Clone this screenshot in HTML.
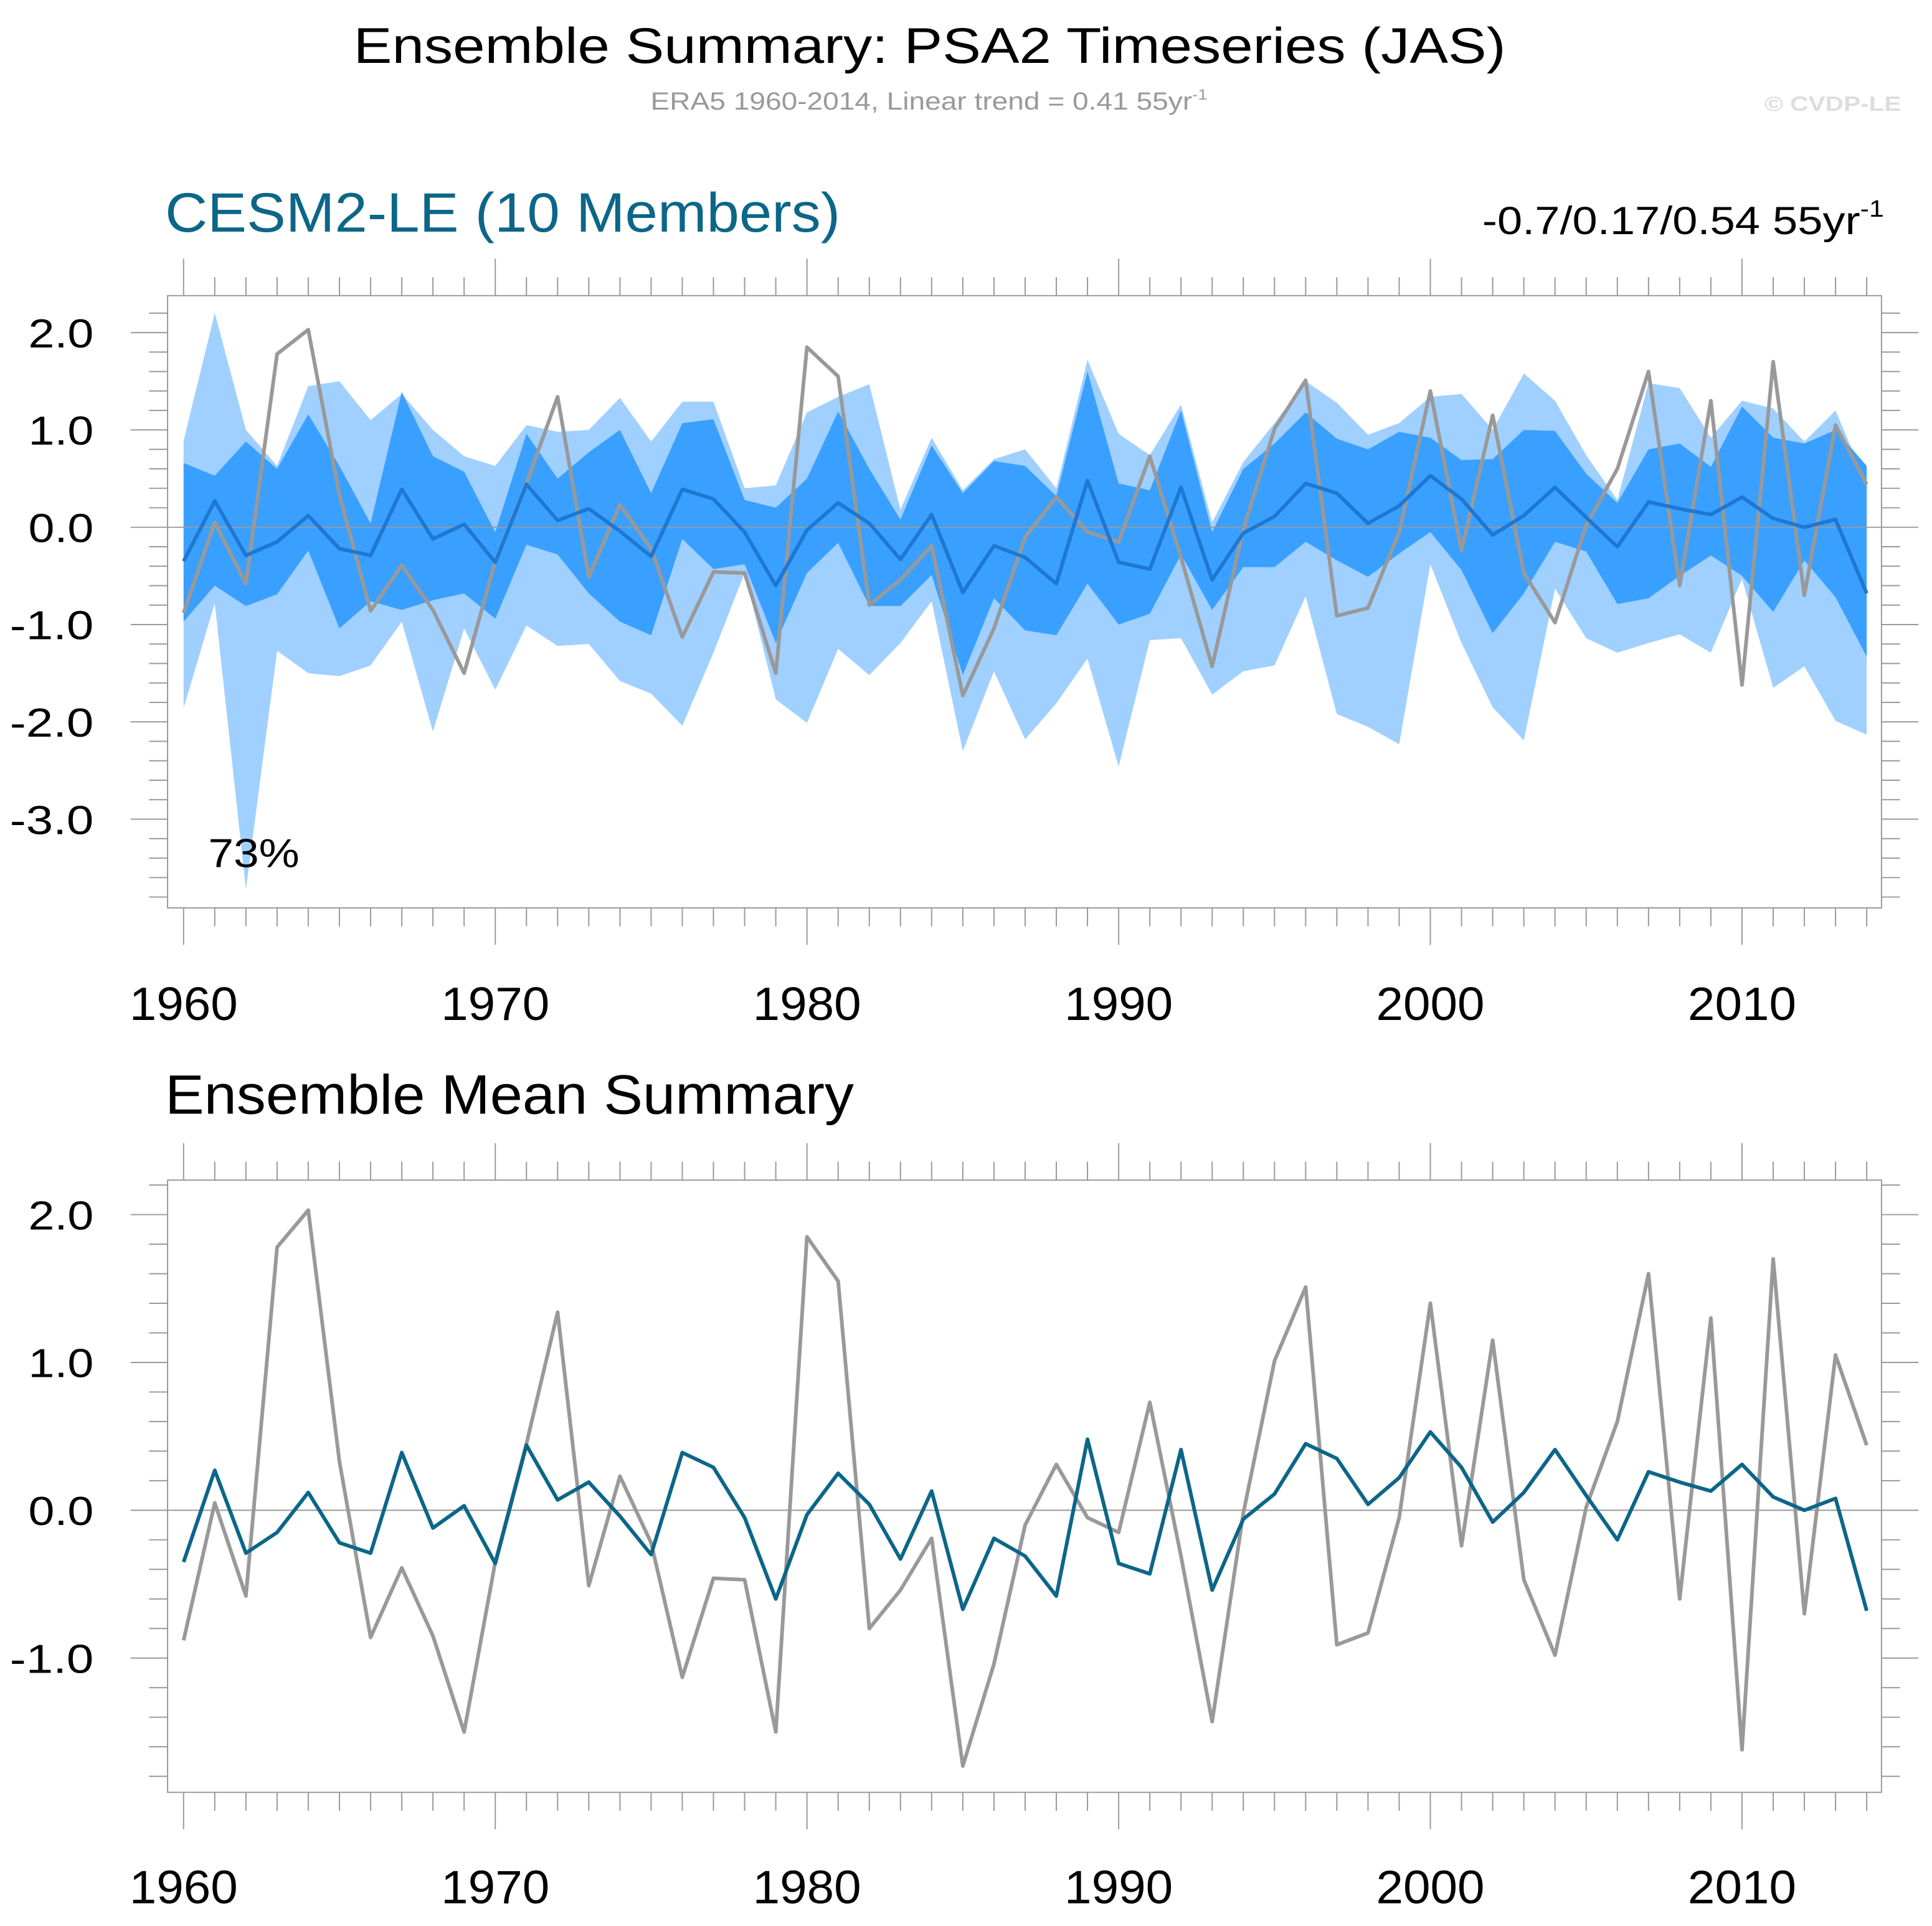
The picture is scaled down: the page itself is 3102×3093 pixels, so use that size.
<!DOCTYPE html>
<html><head><meta charset="utf-8"><style>html,body{margin:0;padding:0;background:#fff}svg{display:block}</style></head>
<body>
<svg id="chart" width="3102" height="3093" viewBox="0 0 1568 1563.5" preserveAspectRatio="none" xmlns="http://www.w3.org/2000/svg" font-family="Liberation Sans, sans-serif">
<text x="287" y="51" font-size="41" textLength="935" lengthAdjust="spacingAndGlyphs">Ensemble Summary: PSA2 Timeseries (JAS)</text>
<text x="528" y="89" font-size="20" fill="#999" textLength="452" lengthAdjust="spacingAndGlyphs">ERA5 1960-2014, Linear trend = 0.41 55yr<tspan font-size="12" dy="-8">-1</tspan></text>
<text x="1432" y="90" font-size="17" font-weight="bold" fill="#ddd" textLength="111" lengthAdjust="spacingAndGlyphs">© CVDP-LE</text>
<text x="134" y="188" font-size="45" fill="#0c6688" textLength="548" lengthAdjust="spacingAndGlyphs">CESM2-LE (10 Members)</text>
<text x="1203" y="190" font-size="32" textLength="326" lengthAdjust="spacingAndGlyphs">-0.7/0.17/0.54 55yr<tspan font-size="19" dy="-14">-1</tspan></text>
<text x="134" y="904" font-size="45" textLength="559" lengthAdjust="spacingAndGlyphs">Ensemble Mean Summary</text>
<g id="p1"></g><g id="p2"></g>
<text x="169" y="704" font-size="33" textLength="74" lengthAdjust="spacingAndGlyphs">73%</text>
</svg>
<script>
const years=[];for(let y=1960;y<=2014;y++)years.push(y);
const era5=[-0.88,0.05,-0.58,1.78,2.03,0.33,-0.86,-0.39,-0.85,-1.5,-0.35,0.45,1.34,-0.51,0.23,-0.22,-1.13,-0.46,-0.47,-1.5,1.85,1.55,-0.8,-0.54,-0.19,-1.73,-1.04,-0.1,0.31,-0.05,-0.15,0.73,-0.31,-1.43,-0.02,1.01,1.51,-0.91,-0.83,-0.05,1.4,-0.24,1.15,-0.47,-0.98,0.02,0.6,1.6,-0.6,1.3,-1.62,1.7,-0.7,1.05,0.44];
const ensMean=[-0.35,0.27,-0.29,-0.15,0.12,-0.22,-0.29,0.39,-0.12,0.03,-0.36,0.44,0.07,0.19,-0.04,-0.3,0.39,0.29,-0.05,-0.6,-0.03,0.25,0.04,-0.33,0.13,-0.67,-0.19,-0.31,-0.58,0.48,-0.36,-0.43,0.41,-0.54,-0.06,0.11,0.45,0.35,0.04,0.22,0.53,0.29,-0.08,0.12,0.41,0.1,-0.2,0.26,0.19,0.13,0.31,0.09,0.0,0.08,-0.68];
const ensMax=[0.89,2.2,1.0,0.63,1.45,1.5,1.1,1.37,1.0,0.73,0.63,1.05,0.98,1.0,1.33,0.88,1.29,1.29,0.4,0.43,1.18,1.34,1.47,0.18,0.92,0.38,0.7,0.8,0.4,1.72,0.96,0.74,1.26,0.05,0.67,1.07,1.5,1.28,0.95,1.07,1.34,1.37,1.0,1.58,1.3,0.74,0.28,1.48,1.43,0.92,1.3,1.22,0.88,1.2,0.44];
const ensMin=[-1.86,-0.78,-3.72,-1.27,-1.5,-1.53,-1.42,-0.97,-2.1,-1.04,-1.67,-1.01,-1.22,-1.2,-1.58,-1.71,-2.04,-1.29,-0.47,-1.77,-2.01,-1.25,-1.52,-1.19,-0.76,-2.3,-1.48,-2.18,-1.81,-1.35,-2.46,-1.16,-1.14,-1.72,-1.48,-1.42,-0.71,-1.92,-2.05,-2.23,-0.38,-1.19,-1.85,-2.19,-0.63,-1.14,-1.29,-1.19,-1.1,-1.29,-0.53,-1.65,-1.43,-1.99,-2.13];
const ensP75=[0.66,0.53,0.88,0.6,1.16,0.63,0.04,1.39,0.73,0.57,-0.05,0.96,0.5,0.77,1.0,0.35,1.07,1.11,0.28,0.2,0.5,1.19,0.6,0.08,0.84,0.35,0.68,0.63,0.32,1.6,0.45,0.38,1.2,-0.05,0.6,0.86,1.18,0.91,0.8,0.98,0.92,0.69,0.7,1.0,0.99,0.55,0.25,0.8,0.86,0.62,1.24,0.92,0.86,1.0,0.63];
const ensP25=[-0.97,-0.6,-0.81,-0.69,-0.24,-1.04,-0.76,-0.85,-0.75,-0.68,-0.94,-0.18,-0.28,-0.68,-0.97,-1.11,-0.12,-0.43,-0.38,-1.19,-0.47,-0.16,-0.81,-0.81,-0.49,-1.52,-0.73,-1.06,-1.11,-0.58,-1.0,-0.89,-0.28,-0.85,-0.41,-0.41,-0.15,-0.34,-0.51,-0.27,-0.05,-0.44,-1.09,-0.68,-0.15,-0.25,-0.79,-0.73,-0.5,-0.29,-0.5,-0.87,-0.34,-0.72,-1.33];
const xTickLabels=["1960","1970","1980","1990","2000","2010"];
const yTicks1=[2,1,0,-1,-2,-3], yTicks2=[2,1,0,-1];
const NS="http://www.w3.org/2000/svg";
function mk(parent,tag,attrs){const e=document.createElementNS(NS,tag);for(const k in attrs)e.setAttribute(k,attrs[k]);parent.appendChild(e);return e;}
const X=y=>149+(y-1960)*(1515-149)/54;
function panel(g,top,bot,y0,scale,yTicks,ymin,ymax,labY,showBands,meanColor){
  const Y=v=>y0-v*scale;
  const L=136,R=1527;
  if(showBands){
    const band=(hi,lo,col,name)=>{let d="M"+years.map((yr,i)=>X(yr)+","+Y(hi[i])).join("L");d+="L"+years.slice().reverse().map((yr,j)=>{const i=years.length-1-j;return X(yr)+","+Y(lo[i]);}).join("L")+"Z";
      const p=mk(g,"path",{d:d,fill:col});
      
      };
    band(ensMax,ensMin,"#a0d0ff","minmax-band");
    band(ensP75,ensP25,"#3aa0ff","iqr-band");
  }
  const z=mk(g,"line",{x1:L,x2:R,y1:Y(0),y2:Y(0),stroke:"#999","stroke-width":1});
  
  
  const line=(vals,col,name,w)=>{const p=mk(g,"polyline",{points:years.map((yr,i)=>X(yr)+","+Y(vals[i])).join(" "),fill:"none",stroke:col,"stroke-width":w,"stroke-linejoin":"round"});
    
    };
  line(era5,"#999","era5-line",3);
  line(ensMean,meanColor,"ensemble-mean-line",3);
  const f=mk(g,"rect",{x:L,y:top,width:R-L,height:bot-top,fill:"none",stroke:"#999","stroke-width":1});
  
  
  years.forEach(yr=>{const maj=yr%10===0;const len=maj?30:15;
    mk(g,"line",{x1:X(yr),x2:X(yr),y1:top-len,y2:top,stroke:"#999","stroke-width":1});
    mk(g,"line",{x1:X(yr),x2:X(yr),y1:bot,y2:bot+len,stroke:"#999","stroke-width":1});});
  for(let v=Math.ceil(ymin*5);v<=Math.floor(ymax*5);v++){const val=v/5;const maj=v%5===0;const len=maj?30:15;const yy=Y(val);
    mk(g,"line",{x1:L-len,x2:L,y1:yy,y2:yy,stroke:"#999","stroke-width":1});
    mk(g,"line",{x1:R,x2:R+len,y1:yy,y2:yy,stroke:"#999","stroke-width":1});}
  yTicks.forEach(v=>{const s=v.toFixed(1);const w=s.length>3?68:53;const t=mk(g,"text",{x:76-w,y:Y(v)+12,"font-size":33,textLength:w,lengthAdjust:"spacingAndGlyphs"});t.textContent=s;
    
    });
  xTickLabels.forEach(s=>{const t=mk(g,"text",{x:X(+s)-44,y:labY,"font-size":38,textLength:88,lengthAdjust:"spacingAndGlyphs"});t.textContent=s;
    
    });
}
const p1=document.getElementById("p1");


const p2=document.getElementById("p2");


panel(p1,240,737,428,79,yTicks1,-3.91,2.38,828,true,"#1e78d2");
panel(p2,958,1455,1226,120,yTicks2,-1.91,2.23,1545,false,"#0c6688");
</script>
</body></html>
